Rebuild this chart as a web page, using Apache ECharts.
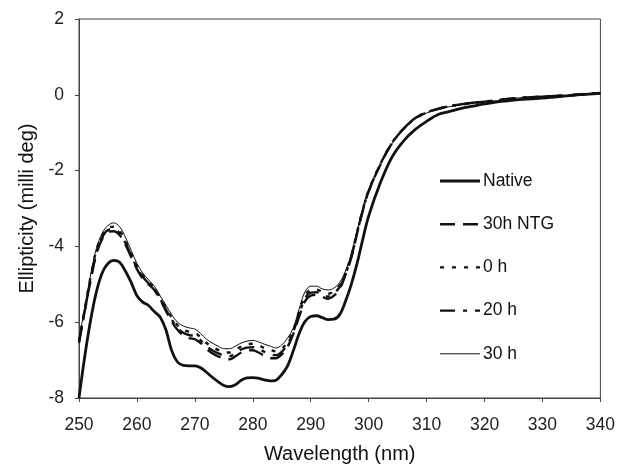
<!DOCTYPE html>
<html>
<head>
<meta charset="utf-8">
<script src="https://cdn.jsdelivr.net/npm/echarts@6/dist/echarts.min.js"></script>
<style>html,body{margin:0;padding:0;background:#fff;}#c{width:618px;height:469px;}</style>
</head>
<body>
<div id="c"></div>
<script>
const wavelengths = [250,251,252,253,254,255,256,257,258,259,260,261,262,263,264,265,266,267,268,269,270,271,272,273,274,275,276,277,278,279,280,281,282,283,284,285,286,287,288,289,290,291,292,293,294,295,296,297,298,299,300,302,304,306,308,310,312,314,316,318,320,322,324,326,328,330,332,334,336,338,340];

const native = [-8.0,-6.9,-5.95,-5.2,-4.7,-4.45,-4.37,-4.42,-4.65,-4.95,-5.3,-5.47,-5.56,-5.72,-5.86,-6.2,-6.75,-7.05,-7.14,-7.15,-7.15,-7.2,-7.32,-7.45,-7.57,-7.67,-7.7,-7.65,-7.53,-7.47,-7.46,-7.48,-7.52,-7.55,-7.53,-7.38,-7.15,-6.75,-6.3,-5.98,-5.85,-5.83,-5.88,-5.93,-5.92,-5.8,-5.45,-5.0,-4.45,-3.8,-3.2,-2.33,-1.65,-1.22,-0.92,-0.7,-0.52,-0.44,-0.36,-0.3,-0.24,-0.19,-0.16,-0.13,-0.11,-0.09,-0.06,-0.03,0.0,0.02,0.04];

const ntg30h = [-6.5,-5.7,-4.9,-4.2,-3.8,-3.62,-3.6,-3.7,-3.95,-4.28,-4.6,-4.85,-5.0,-5.15,-5.4,-5.7,-5.98,-6.2,-6.35,-6.42,-6.45,-6.55,-6.7,-6.82,-6.9,-6.96,-6.98,-6.9,-6.8,-6.75,-6.74,-6.8,-6.88,-6.95,-6.95,-6.85,-6.65,-6.3,-5.85,-5.45,-5.3,-5.28,-5.33,-5.38,-5.3,-5.12,-4.75,-4.3,-3.65,-3.05,-2.55,-1.85,-1.28,-0.9,-0.62,-0.47,-0.37,-0.3,-0.25,-0.21,-0.18,-0.15,-0.11,-0.08,-0.06,-0.05,-0.03,-0.02,0.0,0.03,0.05];

const h0 = [-6.5,-5.65,-4.8,-4.1,-3.72,-3.52,-3.48,-3.58,-3.85,-4.2,-4.52,-4.76,-4.93,-5.1,-5.35,-5.62,-5.88,-6.08,-6.2,-6.25,-6.28,-6.4,-6.55,-6.65,-6.73,-6.79,-6.8,-6.73,-6.64,-6.58,-6.57,-6.61,-6.68,-6.73,-6.77,-6.7,-6.52,-6.2,-5.72,-5.3,-5.15,-5.14,-5.2,-5.25,-5.18,-5.02,-4.7,-4.25,-3.62,-3.02,-2.52,-1.83,-1.27,-0.9,-0.63,-0.47,-0.37,-0.3,-0.26,-0.22,-0.18,-0.15,-0.12,-0.09,-0.07,-0.05,-0.04,-0.02,0.0,0.02,0.04];

const h20 = [-6.55,-5.7,-4.88,-4.18,-3.76,-3.57,-3.55,-3.65,-3.9,-4.24,-4.56,-4.8,-4.97,-5.12,-5.38,-5.66,-5.93,-6.15,-6.28,-6.34,-6.37,-6.48,-6.63,-6.74,-6.82,-6.88,-6.9,-6.82,-6.72,-6.67,-6.66,-6.71,-6.78,-6.85,-6.87,-6.78,-6.58,-6.25,-5.78,-5.38,-5.22,-5.21,-5.27,-5.32,-5.24,-5.07,-4.72,-4.28,-3.64,-3.04,-2.54,-1.84,-1.28,-0.9,-0.62,-0.47,-0.37,-0.3,-0.25,-0.21,-0.18,-0.15,-0.11,-0.08,-0.06,-0.05,-0.03,-0.02,0.0,0.02,0.05];

const h30 = [-6.45,-5.6,-4.75,-4.05,-3.65,-3.45,-3.38,-3.48,-3.75,-4.1,-4.45,-4.7,-4.88,-5.05,-5.3,-5.55,-5.8,-6.0,-6.1,-6.15,-6.18,-6.3,-6.45,-6.55,-6.63,-6.7,-6.7,-6.63,-6.55,-6.5,-6.48,-6.52,-6.58,-6.63,-6.68,-6.6,-6.42,-6.15,-5.65,-5.2,-5.05,-5.05,-5.12,-5.15,-5.1,-4.95,-4.65,-4.2,-3.6,-3.0,-2.5,-1.85,-1.3,-0.92,-0.64,-0.48,-0.38,-0.31,-0.26,-0.22,-0.19,-0.16,-0.12,-0.08,-0.07,-0.05,-0.04,-0.02,0.0,0.02,0.05];

const seriesNames = ['Native','30h NTG','0 h','20 h','30 h'];
const seriesValues = [native, ntg30h, h0, h20, h30];
const lineStyles = [
  {width: 2.8, dash: null},
  {width: 2.4, dash: [15, 8]},
  {width: 2.4, dash: [4, 8]},
  {width: 2.4, dash: [15, 8, 4, 8]},
  {width: 1, dash: null}
];

const xTicks = {min: 250, max: 340, interval: 10};
const yTicks = {min: -8, max: 2, interval: 2};

const chart = echarts.init(document.getElementById('c'), null, {renderer: 'canvas'});
const font = 'Liberation Sans, Arial, sans-serif';

// legend drawn as graphic elements (layout only)
const legendLeft = 440, legendTop = 181, legendStep = 43.2, legendLen = 40;
const legendGraphics = [];
seriesNames.forEach((n, i) => {
  const y = legendTop + i * legendStep;
  const st = lineStyles[i];
  legendGraphics.push({
    type: 'line', silent: true,
    shape: {x1: legendLeft, y1: y, x2: legendLeft + legendLen, y2: y},
    style: {stroke: '#111', lineWidth: st.width, lineDash: st.dash || null}
  });
  legendGraphics.push({
    type: 'text', silent: true, x: legendLeft + legendLen + 3, y: y,
    style: {text: n, fontFamily: font, fontSize: 17.5, fill: '#111', verticalAlign: 'middle', align: 'left'}
  });
});

chart.setOption({
  animation: false,
  backgroundColor: '#fff',
  grid: {left: 79, right: 16, top: 19, bottom: 67, show: true, borderColor: '#444', borderWidth: 1, backgroundColor: 'transparent'},
  graphic: legendGraphics,
  xAxis: {
    type: 'value', min: xTicks.min, max: xTicks.max, interval: xTicks.interval,
    name: 'Wavelength (nm)', nameLocation: 'middle', nameGap: 46,
    nameTextStyle: {fontFamily: font, fontSize: 20, color: '#111'},
    axisLine: {show: true, onZero: false, lineStyle: {color: '#444', width: 1}},
    axisTick: {show: true, inside: false, length: 4, lineStyle: {color: '#444'}},
    axisLabel: {fontFamily: font, fontSize: 17.5, color: '#222', margin: 18},
    splitLine: {show: false}
  },
  yAxis: {
    type: 'value', min: yTicks.min, max: yTicks.max, interval: yTicks.interval,
    name: 'Ellipticity (milli deg)', nameLocation: 'middle', nameGap: 40,
    nameTextStyle: {fontFamily: font, fontSize: 20, color: '#111'},
    axisLine: {show: true, onZero: false, lineStyle: {color: '#444', width: 1}},
    axisTick: {show: true, inside: false, length: 4, lineStyle: {color: '#444'}},
    axisLabel: {fontFamily: font, fontSize: 17.5, color: '#222', margin: 15},
    splitLine: {show: false}
  },
  series: seriesNames.map((n, i) => ({
    name: n, type: 'line', symbol: 'none', smooth: 0.35,
    data: wavelengths.map((w, j) => [w, seriesValues[i][j]]),
    lineStyle: {color: '#111', width: lineStyles[i].width, type: lineStyles[i].dash || 'solid'},
    itemStyle: {color: '#111'},
    z: 5 - i
  }))
});
</script>
</body>
</html>
